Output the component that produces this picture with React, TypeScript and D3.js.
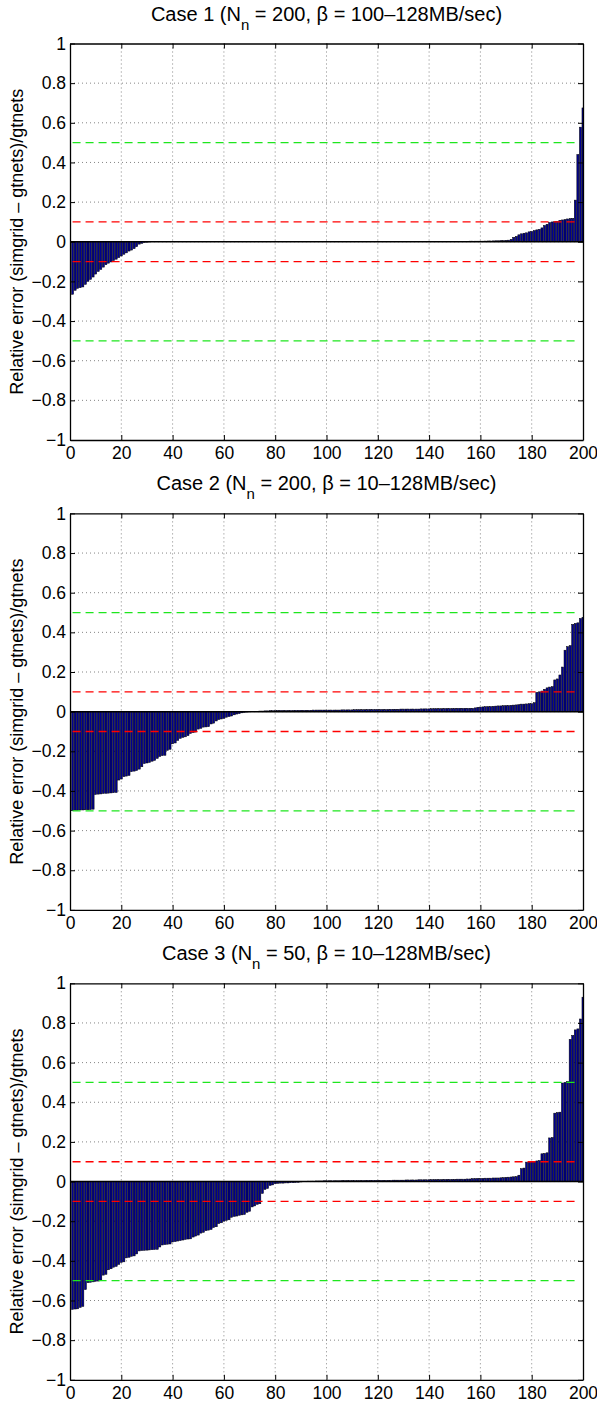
import { useEffect, useRef } from "react";
import * as d3 from "d3";

// sorted relative errors, one bar per experiment (200 per case)
const case1Errors = [
  -0.265, -0.245, -0.235, -0.232, -0.228, -0.215, -0.2, -0.19, -0.178, -0.163, -0.15, -0.14, -0.128, -0.116, -0.108, -0.102, -0.095, -0.088, -0.08, -0.072,
  -0.063, -0.056, -0.047, -0.042, -0.035, -0.025, -0.012, -0.008, -0.004, -0.002, -0.001, 0, 0, 0, 0, 0, 0, 0, 0, 0,
  0, 0, 0, 0, 0, 0, 0, 0, 0, 0, 0.001, 0.001, 0.001, 0.001, 0.001, 0.001, 0.001, 0.001, 0.001, 0.001,
  0.001, 0.001, 0.001, 0.001, 0.001, 0.001, 0.001, 0.001, 0.001, 0.001, 0.001, 0.001, 0.001, 0.001, 0.001, 0.001, 0.001, 0.001, 0.001, 0.001,
  0.001, 0.001, 0.001, 0.001, 0.001, 0.001, 0.001, 0.001, 0.001, 0.001, 0.001, 0.001, 0.001, 0.001, 0.001, 0.001, 0.001, 0.001, 0.001, 0.001,
  0.001, 0.001, 0.001, 0.001, 0.001, 0.001, 0.001, 0.001, 0.001, 0.001, 0.0015, 0.0015, 0.0015, 0.0015, 0.0015, 0.0015, 0.0015, 0.0015, 0.0015, 0.0015,
  0.0015, 0.0015, 0.0015, 0.0015, 0.0015, 0.0015, 0.0015, 0.0015, 0.0015, 0.0015, 0.002, 0.002, 0.002, 0.002, 0.002, 0.002, 0.002, 0.002, 0.002, 0.002,
  0.002, 0.002, 0.002, 0.002, 0.002, 0.002, 0.002, 0.002, 0.002, 0.002, 0.0025, 0.0025, 0.0025, 0.0025, 0.0025, 0.003, 0.003, 0.003, 0.003, 0.003,
  0.003, 0.0035, 0.004, 0.004, 0.0045, 0.005, 0.005, 0.006, 0.006, 0.007,
  0.008, 0.012, 0.022, 0.027, 0.035, 0.04, 0.043, 0.045, 0.05, 0.052,
  0.056, 0.06, 0.063, 0.07, 0.082, 0.088, 0.097, 0.1, 0.101, 0.103,
  0.108, 0.11, 0.112, 0.115, 0.117, 0.118, 0.21, 0.44, 0.578, 0.675,
];

const case2Errors = [
  -0.5, -0.497, -0.497, -0.496, -0.496, -0.495, -0.495, -0.494, -0.492, -0.418, -0.416, -0.415, -0.413, -0.412, -0.411, -0.41, -0.409, -0.408, -0.345, -0.34,
  -0.328, -0.325, -0.322, -0.303, -0.3, -0.297, -0.29, -0.278, -0.262, -0.259, -0.256, -0.25, -0.246, -0.236, -0.226, -0.222, -0.22, -0.195, -0.19, -0.162,
  -0.158, -0.145, -0.135, -0.13, -0.127, -0.121, -0.11, -0.106, -0.103, -0.088, -0.084, -0.078, -0.077, -0.076, -0.062, -0.058, -0.047, -0.04, -0.037, -0.034,
  -0.028, -0.025, -0.022, -0.016, -0.012, -0.01, -0.006, -0.004, -0.002, -0.001, 0.001, 0.002, 0.002, 0.003, 0.003, 0.004, 0.004, 0.005, 0.005, 0.005,
  0.006, 0.006, 0.006, 0.006, 0.006, 0.006, 0.006, 0.007, 0.007, 0.007, 0.007, 0.007, 0.007, 0.007, 0.008, 0.008, 0.008, 0.008, 0.008, 0.008,
  0.008, 0.008, 0.008, 0.008, 0.008, 0.009, 0.009, 0.009, 0.009, 0.009, 0.01, 0.01, 0.01, 0.01, 0.01, 0.011, 0.011, 0.011, 0.011, 0.011,
  0.011, 0.011, 0.011, 0.011, 0.012, 0.012, 0.012, 0.012, 0.013, 0.013, 0.013, 0.013, 0.013, 0.013, 0.013, 0.013, 0.014, 0.014, 0.014, 0.014,
  0.015, 0.015, 0.015, 0.015, 0.015, 0.016, 0.016, 0.016, 0.016, 0.016, 0.017, 0.017, 0.017, 0.017, 0.017, 0.017, 0.017, 0.019, 0.022, 0.023,
  0.024, 0.025, 0.025, 0.026, 0.027, 0.028, 0.029, 0.029, 0.03, 0.03, 0.031, 0.032, 0.033, 0.034, 0.035, 0.038, 0.038, 0.039, 0.04, 0.04,
  0.045, 0.097, 0.1, 0.104, 0.113, 0.12, 0.124, 0.126, 0.16, 0.165, 0.185, 0.225, 0.31, 0.328, 0.333, 0.44, 0.445, 0.448, 0.47, 0.476,
];

const case3Errors = [
  -0.645, -0.643, -0.642, -0.635, -0.63, -0.545, -0.51, -0.508, -0.506, -0.503, -0.502, -0.497, -0.472, -0.468, -0.445, -0.44, -0.432, -0.428, -0.418, -0.408,
  -0.405, -0.385, -0.382, -0.377, -0.375, -0.365, -0.35, -0.348, -0.347, -0.346, -0.345, -0.344, -0.343, -0.342, -0.33, -0.32, -0.318, -0.316, -0.315, -0.305,
  -0.303, -0.3, -0.298, -0.295, -0.292, -0.29, -0.289, -0.28, -0.275, -0.27, -0.26, -0.256, -0.248, -0.245, -0.242, -0.232, -0.228, -0.212, -0.208, -0.2,
  -0.196, -0.193, -0.18, -0.176, -0.174, -0.17, -0.168, -0.166, -0.155, -0.15, -0.128, -0.123, -0.115, -0.112, -0.06, -0.04, -0.035, -0.02, -0.017, -0.011,
  -0.009, -0.008, -0.008, -0.007, -0.007, -0.006, -0.006, -0.005, -0.004, -0.002, 0.001, 0.001, 0.002, 0.002, 0.002, 0.003, 0.003, 0.003, 0.004, 0.004,
  0.004, 0.004, 0.004, 0.004, 0.004, 0.005, 0.005, 0.005, 0.005, 0.005, 0.005, 0.005, 0.005, 0.005, 0.005, 0.006, 0.006, 0.006, 0.006, 0.006,
  0.006, 0.006, 0.006, 0.006, 0.006, 0.007, 0.007, 0.007, 0.007, 0.007, 0.008, 0.008, 0.008, 0.008, 0.008, 0.009, 0.009, 0.009, 0.009, 0.009,
  0.01, 0.01, 0.01, 0.01, 0.01, 0.011, 0.011, 0.011, 0.011, 0.011, 0.012, 0.012, 0.012, 0.012, 0.013, 0.013, 0.015, 0.015, 0.016, 0.016,
  0.016, 0.017, 0.017, 0.017, 0.018, 0.018, 0.018, 0.019, 0.02, 0.021, 0.022, 0.023, 0.024, 0.025, 0.032, 0.065, 0.068, 0.098, 0.099, 0.1,
  0.102, 0.104, 0.106, 0.14, 0.142, 0.145, 0.22, 0.222, 0.345, 0.348, 0.35, 0.497, 0.5, 0.505, 0.717, 0.737, 0.765, 0.77, 0.82, 0.93,
];

const caseNames = ["Case 1", "Case 2", "Case 3"];
const caseNodes = ["200", "200", "50"];
const caseBandwidths = ["100–128MB/sec", "10–128MB/sec", "10–128MB/sec"];

const redLevels = [0.1, -0.1];
const greenLevels = [0.5, -0.5];
const levelSpan = [1, 197];

const xTicks = [0, 20, 40, 60, 80, 100, 120, 140, 160, 180, 200];
const yTicks = [-1, -0.8, -0.6, -0.4, -0.2, 0, 0.2, 0.4, 0.6, 0.8, 1];
const yLabel = "Relative error (simgrid – gtnets)/gtnets";

const FONT = "'Liberation Sans', Arial, Helvetica, sans-serif";

const ErrorCharts = () => {
  const svgRef = useRef<SVGSVGElement>(null);

  useEffect(() => {
    const svg = d3.select(svgRef.current);
    svg.selectAll("*").remove();

    const left = 70;
    const right = 583;
    const firstTop = 43.5;
    const panelStep = 469.9;
    const panelH = 396.5;

    const x = d3.scaleLinear().domain([0, 200]).range([left, right]);
    const barW = (x(1) - x(0)) * 0.8;
    const fmt = (d: number) => (d < 0 ? "\u2212" + Math.abs(d) : String(d));

    [case1Errors, case2Errors, case3Errors].forEach((values, k) => {
      const top = firstTop + k * panelStep;
      const bottom = top + panelH;
      const y = d3.scaleLinear().domain([-1, 1]).range([bottom, top]);
      const g = svg.append("g");

      const clipId = `plot-clip-${k}`;
      svg
        .append("clipPath")
        .attr("id", clipId)
        .append("rect")
        .attr("x", left)
        .attr("y", top)
        .attr("width", right - left)
        .attr("height", panelH);

      // dotted grid
      g.selectAll(".vgrid")
        .data(xTicks.slice(1, -1))
        .join("line")
        .attr("x1", (d) => x(d))
        .attr("x2", (d) => x(d))
        .attr("y1", top)
        .attr("y2", bottom)
        .attr("stroke", "#666")
        .attr("stroke-width", 0.8)
        .attr("stroke-dasharray", "1,3");
      g.selectAll(".hgrid")
        .data(yTicks.slice(1, -1))
        .join("line")
        .attr("x1", left)
        .attr("x2", right)
        .attr("y1", (d) => y(d))
        .attr("y2", (d) => y(d))
        .attr("stroke", "#666")
        .attr("stroke-width", 0.8)
        .attr("stroke-dasharray", "1,3");

      // bars
      g.append("g")
        .attr("clip-path", `url(#${clipId})`)
        .selectAll("rect")
        .data(values)
        .join("rect")
        .attr("x", (_, i) => x(i + 1) - barW / 2)
        .attr("y", (d) => y(Math.max(0, d)))
        .attr("width", barW)
        .attr("height", (d) => Math.abs(y(d) - y(0)))
        .attr("fill", "#000090")
        .attr("stroke", "#000")
        .attr("stroke-width", 0.5);

      // baseline
      g.append("line")
        .attr("x1", left)
        .attr("x2", right)
        .attr("y1", y(0))
        .attr("y2", y(0))
        .attr("stroke", "#000")
        .attr("stroke-width", 1.5);

      // threshold lines
      const levels = [
        ...greenLevels.map((v) => ({ v, c: "#1ee61e" })),
        ...redLevels.map((v) => ({ v, c: "#ff0000" })),
      ];
      g.selectAll(".level")
        .data(levels)
        .join("line")
        .attr("x1", x(levelSpan[0]))
        .attr("x2", x(levelSpan[1]))
        .attr("y1", (d) => y(d.v))
        .attr("y2", (d) => y(d.v))
        .attr("stroke", (d) => d.c)
        .attr("stroke-width", 1.3)
        .attr("stroke-dasharray", "8,5");

      // axes box with inward ticks
      const axes = [
        { ax: d3.axisBottom(x).tickValues(xTicks).tickFormat((d) => fmt(+d)), t: `translate(0,${bottom})` },
        { ax: d3.axisTop(x).tickValues(xTicks).tickFormat(() => ""), t: `translate(0,${top})` },
        { ax: d3.axisLeft(y).tickValues(yTicks).tickFormat((d) => fmt(+d)), t: `translate(${left},0)` },
        { ax: d3.axisRight(y).tickValues(yTicks).tickFormat(() => ""), t: `translate(${right},0)` },
      ];
      axes.forEach(({ ax, t }, j) => {
        const a = g
          .append("g")
          .attr("transform", t)
          .call(ax.tickSize(-5).tickSizeOuter(0).tickPadding(j === 0 ? 7 : 4));
        a.select(".domain").attr("stroke", "#000").attr("stroke-width", 1.3);
        a.selectAll(".tick line").attr("stroke", "#000").attr("stroke-width", 1);
        a.selectAll("text")
          .attr("fill", "#000")
          .style("font-family", FONT)
          .style("font-size", "17.5px");
      });

      // title
      const title = g
        .append("text")
        .attr("x", (left + right) / 2)
        .attr("y", top - 23)
        .attr("text-anchor", "middle")
        .style("font-family", FONT)
        .style("font-size", "20px")
        .attr("fill", "#000");
      title.append("tspan").text(`${caseNames[k]} (N`);
      title.append("tspan").attr("dy", 9).style("font-size", "15px").text("n");
      title
        .append("tspan")
        .attr("dy", -9)
        .text(` = ${caseNodes[k]}, \u03b2 = ${caseBandwidths[k]})`);

      // y label
      g.append("text")
        .attr("transform", `translate(23,${(top + bottom) / 2}) rotate(-90)`)
        .attr("text-anchor", "middle")
        .style("font-family", FONT)
        .style("font-size", "18px")
        .attr("fill", "#000")
        .text(yLabel);
    });
  }, []);

  return (
    <svg
      ref={svgRef}
      width={597}
      height={1405}
      style={{ position: "absolute", left: 0, top: 0, background: "#fff" }}
    />
  );
};

export default function App() {
  return <ErrorCharts />;
}
